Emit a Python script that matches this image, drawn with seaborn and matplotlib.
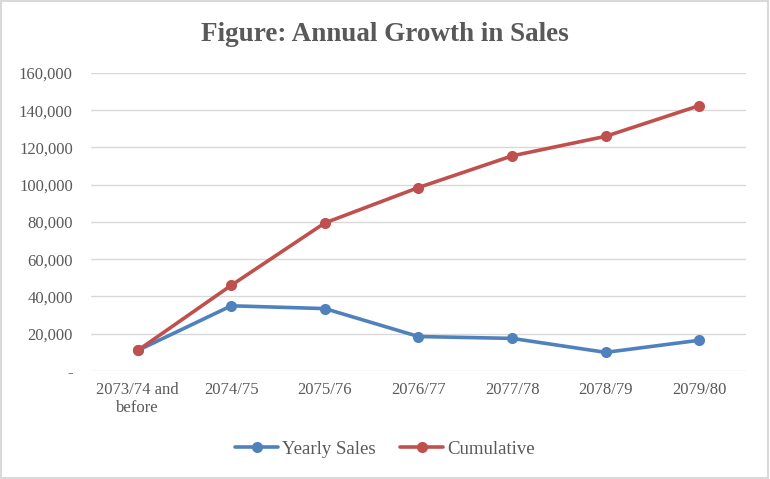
import matplotlib
matplotlib.use("Agg")
import matplotlib.pyplot as plt
import seaborn as sns
import pandas as pd
from matplotlib.ticker import FuncFormatter
from matplotlib.patches import Rectangle

categories = ["2073/74 and\nbefore", "2074/75", "2075/76", "2076/77", "2077/78", "2078/79", "2079/80"]
yearly_sales = [11000, 35000, 33500, 18500, 17500, 10000, 16500]
cumulative = [11000, 46000, 79500, 98500, 115500, 126000, 142500]
series_names = ["Yearly Sales", "Cumulative"]
yticks = [0, 20000, 40000, 60000, 80000, 100000, 120000, 140000, 160000]

sns.set_theme(style="white")
plt.rcParams['font.family'] = ['Liberation Serif', 'DejaVu Serif']

df = pd.DataFrame({
    "x": list(range(len(categories))) * 2,
    "value": yearly_sales + cumulative,
    "series": [series_names[0]] * len(categories) + [series_names[1]] * len(categories),
})

fig = plt.figure(figsize=(7.7, 4.79), dpi=100)
ax = fig.add_axes([0.118, 0.2255, 0.851, 0.6221])

palette = {"Yearly Sales": "#4f81bd", "Cumulative": "#c0504d"}
sns.lineplot(data=df, x="x", y="value", hue="series", palette=palette,
             marker="o", markersize=8, markeredgewidth=0, linewidth=2.6,
             ax=ax, legend=True)

ax.set_xlim(-0.5, len(categories) - 0.5)
ax.set_ylim(0, 160000)
ax.set_yticks(yticks)
ax.yaxis.set_major_formatter(FuncFormatter(lambda v, p: "-" if v == 0 else f"{int(v):,}"))
ax.set_xticks(range(len(categories)))
ax.set_xticklabels(categories, linespacing=1.15)
ax.grid(axis="y", color="#d9d9d9", linewidth=1)
ax.grid(axis="x", visible=False)
for s in ax.spines.values():
    s.set_visible(False)
ax.tick_params(axis="both", length=0, labelsize=12, colors="#595959")
ax.tick_params(axis="x", pad=8)
ax.tick_params(axis="y", pad=13)
ax.set_xlabel("")
ax.set_ylabel("")

fig.text(0.5, 0.929, "Figure: Annual Growth in Sales", ha="center", va="center",
         fontsize=19.5, fontweight="bold", color="#595959")

handles, labels = ax.get_legend_handles_labels()
ax.legend(handles, labels, loc="center", bbox_to_anchor=(0.5, 0.062),
          bbox_transform=fig.transFigure, ncol=2, frameon=False,
          fontsize=13.5, labelcolor="#595959", handlelength=2.3,
          columnspacing=1.3, handletextpad=0.2)

fig.patches.append(Rectangle((0.001, 0.002), 0.997, 0.995, transform=fig.transFigure,
                             fill=False, edgecolor="#d9d9d9", linewidth=1.5))

fig.savefig("out.png", dpi=100)
